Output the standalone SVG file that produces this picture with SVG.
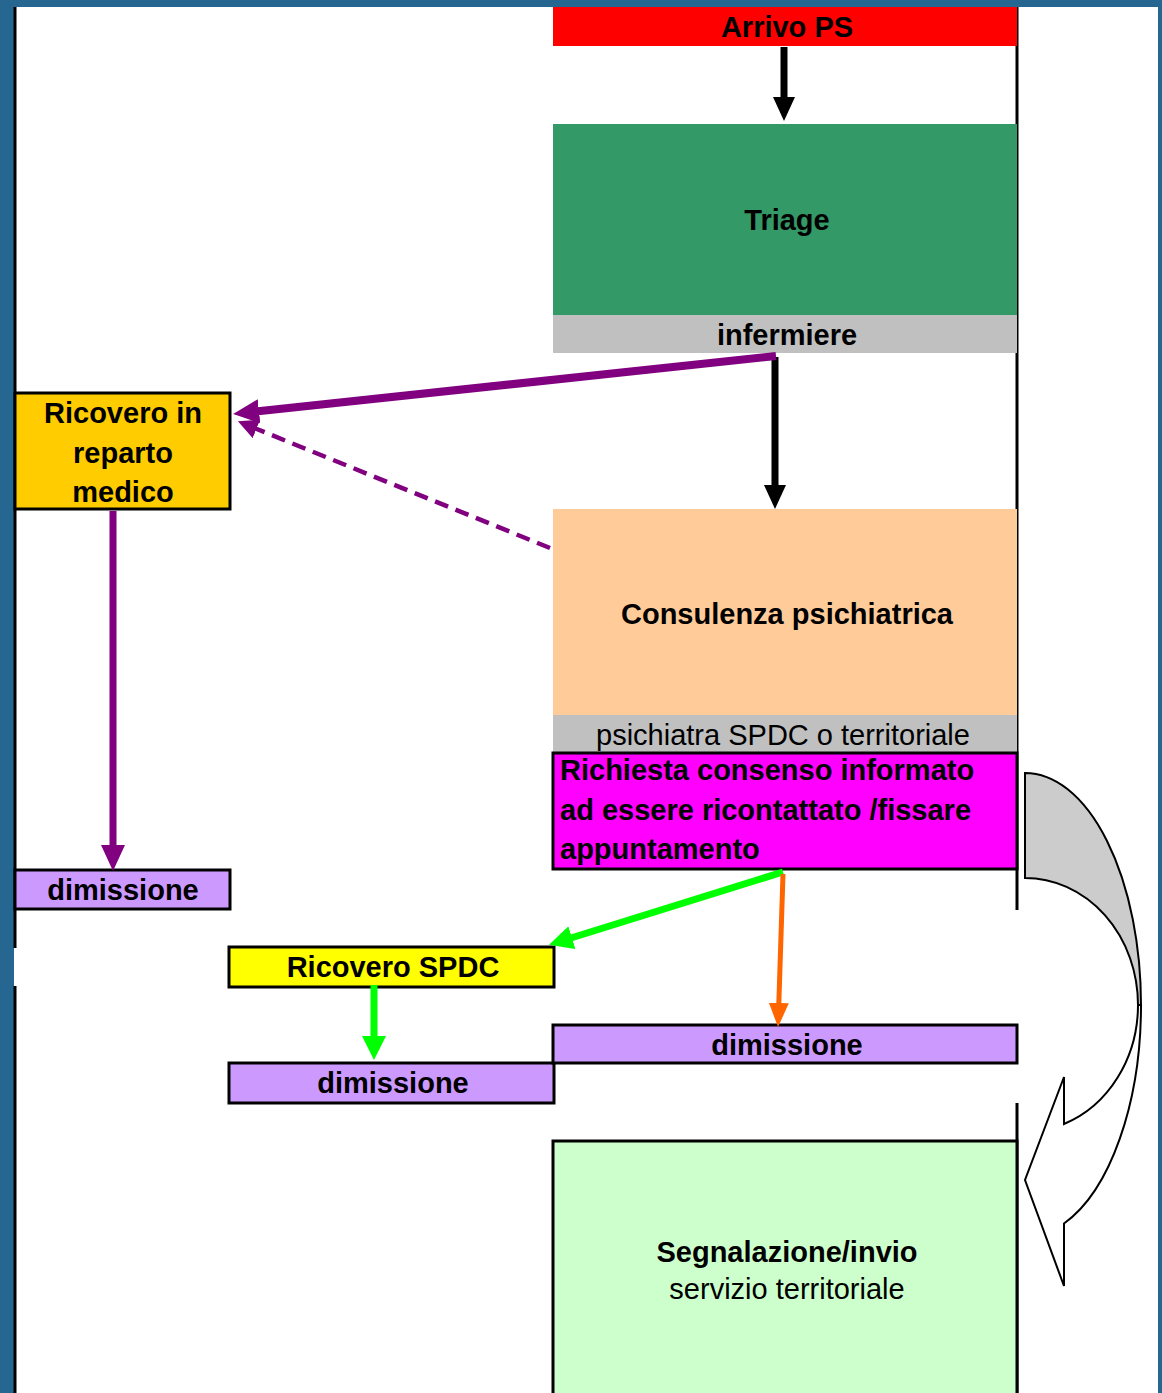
<svg xmlns="http://www.w3.org/2000/svg" width="1162" height="1393" viewBox="0 0 1162 1393">
  <style>
    text { font-family: "Liberation Sans", Arial, sans-serif; font-size: 29px; fill: #000; }
    .b { font-weight: bold; }
    .c { text-anchor: middle; }
    .box { stroke: #000; stroke-width: 3; }
    .band { stroke: none; }
    .frame { stroke: #000; stroke-width: 3; fill: none; }
    .conn { fill: none; }
  </style>
  <defs>
    <marker id="hBlack" markerUnits="userSpaceOnUse" markerWidth="24" markerHeight="22" viewBox="0 0 24 22" refX="1" refY="11" orient="auto">
      <path d="M0,0 L24,11 L0,22 Z" fill="#000"/>
    </marker>
    <marker id="hPurple" markerUnits="userSpaceOnUse" markerWidth="26" markerHeight="24" viewBox="0 0 26 24" refX="1" refY="12" orient="auto">
      <path d="M0,0 L26,12 L0,24 Z" fill="#800080"/>
    </marker>
    <marker id="hPurpleS" markerUnits="userSpaceOnUse" markerWidth="20" markerHeight="20" viewBox="0 0 20 20" refX="1" refY="10" orient="auto">
      <path d="M0,0 L20,10 L0,20 Z" fill="#800080"/>
    </marker>
    <marker id="hGreen" markerUnits="userSpaceOnUse" markerWidth="24" markerHeight="24" viewBox="0 0 24 24" refX="1" refY="12" orient="auto">
      <path d="M0,0 L24,12 L0,24 Z" fill="#00FF00"/>
    </marker>
    <marker id="hOrange" markerUnits="userSpaceOnUse" markerWidth="24" markerHeight="20" viewBox="0 0 24 20" refX="1" refY="10" orient="auto">
      <path d="M0,0 L24,10 L0,20 Z" fill="#FF6600"/>
    </marker>
  </defs>

  <!-- background frame -->
  <rect x="0" y="0" width="1162" height="1393" fill="#266791"/>
  <rect x="14" y="7" width="1144" height="1386" fill="#FFFFFF"/>
  <path class="frame" d="M15,7 V948 M15,986 V1393"/>
  <path class="frame" d="M1017,7 V910 M1017,1103 V1393"/>

  <g id="arrivo">
    <rect class="band" x="553" y="7" width="464" height="39" fill="#FF0000"/>
    <text class="b c" x="787" y="37">Arrivo PS</text>
  </g>

  <g id="triage">
    <rect class="band" x="553" y="124" width="464" height="191" fill="#339966"/>
    <text class="b c" x="787" y="230">Triage</text>
  </g>

  <g id="infermiere">
    <rect class="band" x="553" y="315" width="464" height="38" fill="#C0C0C0"/>
    <text class="b c" x="787" y="345">infermiere</text>
  </g>

  <g id="ricovero-medico">
    <rect class="box" x="15" y="393" width="215" height="116" fill="#FFCC00"/>
    <text class="b c" x="123" y="423">Ricovero in</text>
    <text class="b c" x="123" y="463">reparto</text>
    <text class="b c" x="123" y="502">medico</text>
  </g>

  <g id="dimissione-1">
    <rect class="box" x="15" y="870" width="215" height="39" fill="#CC99FF"/>
    <text class="b c" x="123" y="900">dimissione</text>
  </g>

  <g id="consulenza">
    <rect class="band" x="553" y="509" width="464" height="206" fill="#FFCC99"/>
    <text class="b c" x="787" y="624">Consulenza psichiatrica</text>
  </g>

  <g id="psichiatra">
    <rect class="band" x="553" y="715" width="464" height="38" fill="#C0C0C0"/>
    <text class="c" x="783" y="745">psichiatra SPDC o territoriale</text>
  </g>

  <g id="richiesta">
    <rect class="box" x="553" y="753" width="464" height="116" fill="#FF00FF"/>
    <text class="b" x="560" y="780">Richiesta consenso informato</text>
    <text class="b" x="560" y="820">ad essere ricontattato /fissare</text>
    <text class="b" x="560" y="859">appuntamento</text>
  </g>

  <g id="ricovero-spdc">
    <rect class="box" x="229" y="947" width="325" height="40" fill="#FFFF00"/>
    <text class="b c" x="393" y="977">Ricovero SPDC</text>
  </g>

  <g id="dimissione-2">
    <rect class="box" x="229" y="1063" width="325" height="40" fill="#CC99FF"/>
    <text class="b c" x="393" y="1093">dimissione</text>
  </g>

  <g id="dimissione-3">
    <rect class="box" x="553" y="1025" width="464" height="38" fill="#CC99FF"/>
    <text class="b c" x="787" y="1055">dimissione</text>
  </g>

  <g id="segnalazione">
    <rect class="box" x="553" y="1141" width="464" height="260" fill="#CCFFCC"/>
    <text class="b c" x="787" y="1262">Segnalazione/invio</text>
    <text class="c" x="787" y="1299">servizio territoriale</text>
  </g>

  <g id="connectors">
    <line class="conn" x1="784" y1="47" x2="784" y2="98" stroke="#000" stroke-width="7" marker-end="url(#hBlack)"/>
    <line class="conn" x1="775" y1="357" x2="775" y2="486" stroke="#000" stroke-width="7" marker-end="url(#hBlack)"/>
    <line class="conn" x1="776" y1="356" x2="258" y2="411.3" stroke="#800080" stroke-width="8" marker-end="url(#hPurple)"/>
    <line class="conn" x1="550" y1="548" x2="255.5" y2="428.5" stroke="#800080" stroke-width="4.5" stroke-dasharray="14 8" marker-end="url(#hPurpleS)"/>
    <line class="conn" x1="113" y1="511" x2="113" y2="846" stroke="#800080" stroke-width="7" marker-end="url(#hPurple)"/>
    <line class="conn" x1="783" y1="872" x2="571" y2="938" stroke="#00FF00" stroke-width="7" marker-end="url(#hGreen)"/>
    <line class="conn" x1="783" y1="874" x2="778.8" y2="1004" stroke="#FF6600" stroke-width="5" marker-end="url(#hOrange)"/>
    <line class="conn" x1="374" y1="985" x2="374" y2="1037" stroke="#00FF00" stroke-width="7" marker-end="url(#hGreen)"/>
  </g>

  <g id="curved-arrow">
    <path d="M1025,773 A116,232 0 0 1 1141,1005 L1138,1005 A113,127 0 0 0 1025,878 Z" fill="#CCCCCC" stroke="#000" stroke-width="2"/>
    <path d="M1141,1005 A116,232 0 0 1 1064,1223.5 L1064,1286 L1025,1180 L1064,1077 L1064,1124 A113,127 0 0 0 1138,1005 Z" fill="#FFFFFF" stroke="#000" stroke-width="2" stroke-linejoin="miter"/>
  </g>
</svg>
